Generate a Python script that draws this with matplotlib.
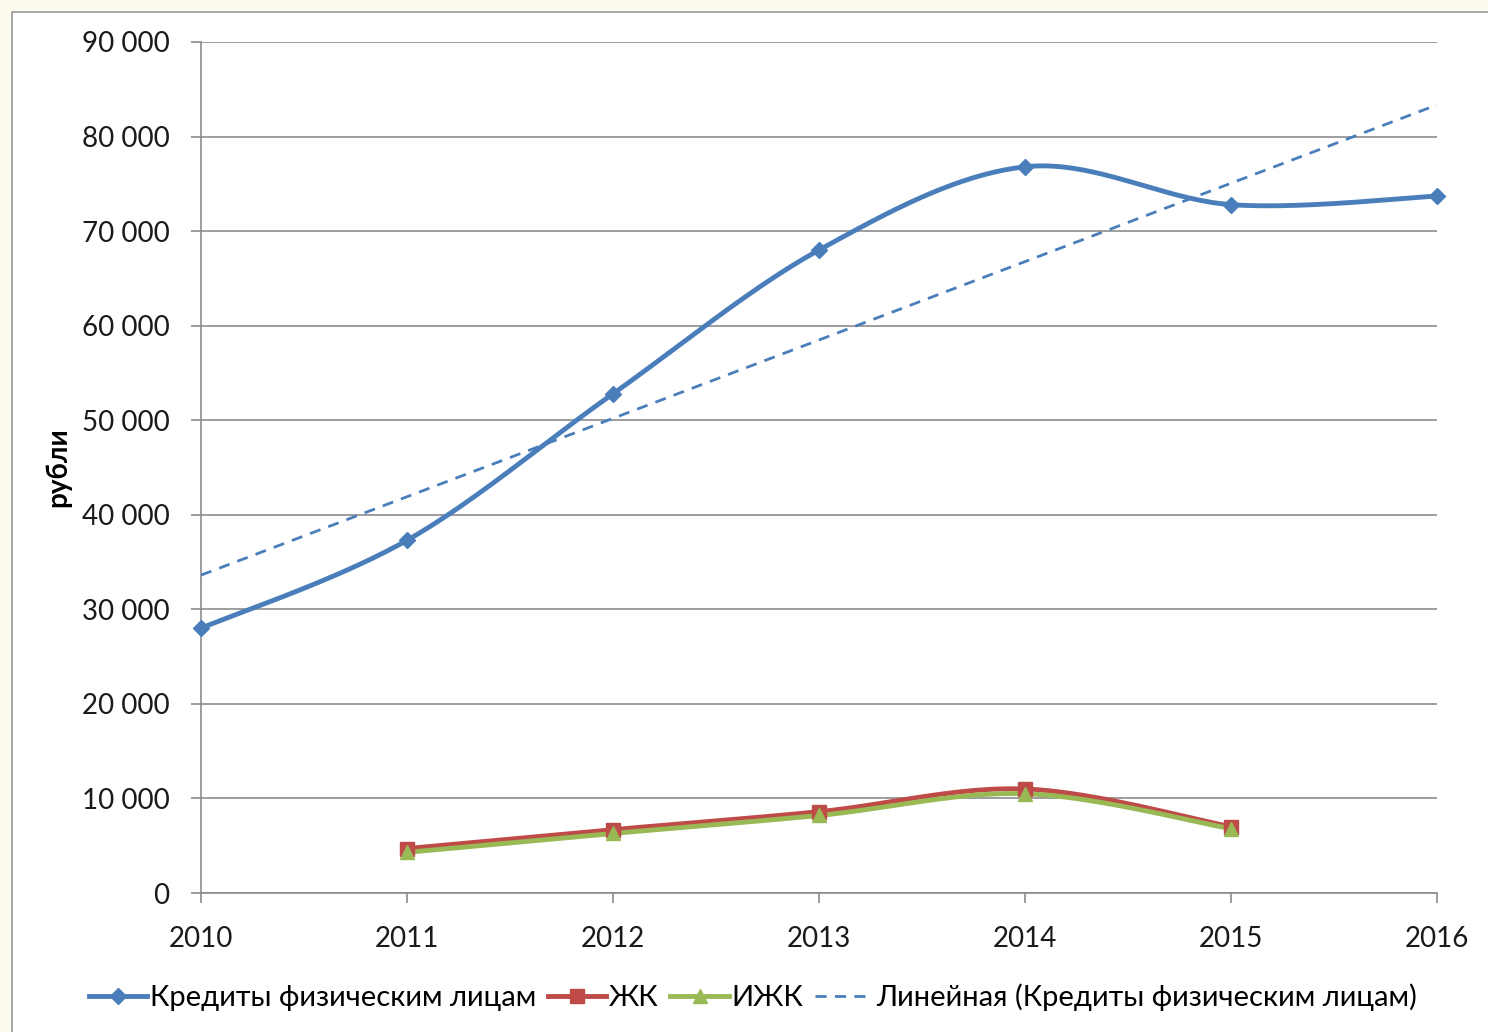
import matplotlib.pyplot as plt
from matplotlib.patches import Rectangle
from matplotlib.lines import Line2D
from matplotlib.ticker import FuncFormatter
import numpy as np

plt.rcParams['font.family'] = ['Lato', 'DejaVu Sans']

years = [2010, 2011, 2012, 2013, 2014, 2015, 2016]
credits = [28000, 37300, 52800, 68000, 76800, 72800, 73700]
zk_years = [2011, 2012, 2013, 2014, 2015]
zk = [4700, 6700, 8600, 11000, 7000]
izk_years = [2011, 2012, 2013, 2014, 2015]
izk = [4300, 6300, 8200, 10500, 6800]

blue = '#4A7EBB'
red = '#BE4B48'
green = '#98B954'
grid_c = '#8C8C8C'


def smooth(ax, xs, ys, n=40):
    # excel-like smoothing: bezier segments with catmull-rom control points, in pixel space
    pts = ax.transData.transform(np.column_stack([xs, ys]))
    p = np.vstack([pts[0], pts, pts[-1]])
    out = []
    for i in range(1, len(p) - 2):
        p0, p1, p2, p3 = p[i - 1], p[i], p[i + 1], p[i + 2]
        c1 = p1 + (p2 - p0) / 6
        c2 = p2 - (p3 - p1) / 6
        t = np.linspace(0, 1, n)[:, None]
        seg = (1 - t) ** 3 * p1 + 3 * (1 - t) ** 2 * t * c1 + 3 * (1 - t) * t ** 2 * c2 + t ** 3 * p2
        out.append(seg if i == 1 else seg[1:])
    out = ax.transData.inverted().transform(np.vstack(out))
    return out[:, 0], out[:, 1]


fig = plt.figure(figsize=(14.88, 10.32), dpi=100, facecolor='#FDFBEF')
fig.add_artist(Rectangle((12 / 1488, -0.01), 1.0, 1 - 12 / 1032 + 0.01,
                         transform=fig.transFigure, facecolor='white',
                         edgecolor='#9A9A9A', linewidth=1.2, zorder=-10))
ax = fig.add_axes([201 / 1488, 1 - 893 / 1032, (1437 - 201) / 1488, (893 - 42) / 1032])
ax.set_xlim(2010, 2016)
ax.set_ylim(0, 90000)
ax.set_facecolor('none')

# trend
coef = np.polyfit(years, credits, 1)
tx = np.array([2010, 2016])
ax.plot(tx, np.polyval(coef, tx), color=blue, lw=2, ls=(0, (4, 3)), zorder=3)

sx, sy = smooth(ax, years, credits)
ax.plot(sx, sy, color=blue, lw=3.5, zorder=4)
ax.plot(years, credits, ls='none', marker='D', ms=8, color=blue, zorder=5, clip_on=False)

sx, sy = smooth(ax, zk_years, zk)
ax.plot(sx, sy, color=red, lw=3.5, zorder=4)
ax.plot(zk_years, zk, ls='none', marker='s', ms=10, color=red, zorder=5)

sx, sy = smooth(ax, izk_years, izk)
ax.plot(sx, sy, color=green, lw=3.5, zorder=4)
ax.plot(izk_years, izk, ls='none', marker='^', ms=10, color=green, zorder=5)

ax.set_yticks(np.arange(0, 90001, 10000))
ax.set_xticks(years)
ax.yaxis.set_major_formatter(FuncFormatter(lambda v, p: f'{int(v):,}'.replace(',', ' ')))
ax.grid(axis='y', color=grid_c, lw=1.2)
ax.set_axisbelow(True)
for s in ['top', 'right']:
    ax.spines[s].set_visible(False)
for s in ['left', 'bottom']:
    ax.spines[s].set_color(grid_c)
    ax.spines[s].set_linewidth(1.2)
ax.tick_params(axis='both', colors=grid_c, length=7.5, width=1.2, labelcolor='#1A1A1A', labelsize=20)
ax.tick_params(axis='y', pad=15)
ax.tick_params(axis='x', pad=16)
ax.set_ylabel('рубли', fontsize=20, fontweight='bold', labelpad=8, color='black')

handles = [
    Line2D([], [], color=blue, lw=3.5, marker='D', ms=8),
    Line2D([], [], color=red, lw=3.5, marker='s', ms=10),
    Line2D([], [], color=green, lw=3.5, marker='^', ms=10),
    Line2D([], [], color=blue, lw=2, ls=(0, (4, 3))),
]
labels = ['Кредиты физическим лицам', 'ЖК', 'ИЖК', 'Линейная (Кредиты физическим лицам)']
fig.legend(handles, labels, loc='center', bbox_to_anchor=(0.506, 1 - 997 / 1032), ncol=4,
           frameon=False, fontsize=21, handlelength=2.0, handletextpad=0.1, columnspacing=0.4)

fig.savefig('out.png', dpi=100, facecolor=fig.get_facecolor())
